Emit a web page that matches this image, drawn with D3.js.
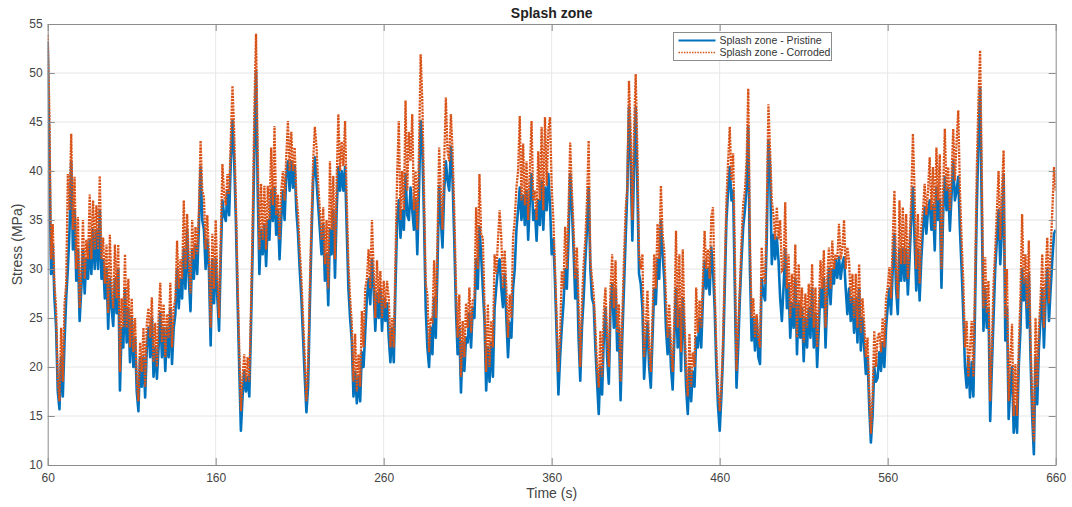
<!DOCTYPE html>
<html>
<head>
<meta charset="utf-8">
<script src="https://cdn.jsdelivr.net/npm/d3@7"></script>
<style>
  body { margin: 0; background: #fff; }
  svg text { font-family: "Liberation Sans", Arial, Helvetica, sans-serif; }
</style>
</head>
<body>
<svg id="chart" width="1072" height="507"></svg>
<script>
// Stress history in the splash zone, sampled once per second from t = 60 s to 660 s.
const timeStart = 60;
const timeStep = 1;

const pristine = [
  53.2, 42, 29.5, 32.5, 27.1, 24, 17.5, 15.7, 21, 17,
  22.5, 27, 30, 34, 41, 32, 36, 28.8, 32, 24.7,
  28, 32, 27.5, 31, 29, 33, 29.5, 34, 30, 34,
  30, 36, 29, 31, 27, 30, 23.9, 29, 26, 24.2,
  29, 25.5, 30, 17.6, 24, 22, 28, 22.5, 26, 20.5,
  25, 20, 23, 17.5, 15.5, 21, 18, 21, 16.9, 22,
  24, 21, 25, 19, 22, 18.8, 22, 25.5, 21, 24,
  19.6, 24, 21, 26, 20.3, 24, 25.4, 30, 26, 29,
  27, 32, 28, 34, 29, 25.7, 32, 29, 32.5, 29.5,
  34.3, 40.4, 35, 34, 30, 33, 29.8, 22.2, 31, 26.5,
  31, 27, 23.7, 31, 37, 35.5, 34.9, 38, 35.5, 41,
  45.1, 41, 35, 27, 20, 13.5, 17, 19.5, 17.5, 19,
  17, 24, 32, 42, 50.2, 38, 29.5, 34, 31.5, 34.5,
  30.3, 35, 33, 38, 34.9, 38.3, 33.5, 36, 31, 35,
  38, 35, 39.5, 41, 38, 41, 38.3, 40.5, 36, 33.6,
  30, 27, 23, 19, 15.4, 18, 26, 33, 39, 41.4,
  39, 36.5, 34, 31.5, 34.5, 28.8, 31.5, 26.3, 34, 31.5,
  36, 29.1, 36, 40.4, 38, 40, 38, 40.4, 34, 28,
  25, 22.7, 17, 19.5, 16.3, 19, 16.5, 21.5, 20, 23.5,
  27, 29, 26.4, 31, 28, 23.7, 27.5, 25, 28, 23.7,
  27, 24.7, 26.5, 23, 20.5, 24, 20.5, 28, 35, 37,
  33.2, 36, 34, 39.7, 35.5, 35, 38.3, 36, 34, 37,
  31.5, 38, 45.1, 42.4, 35, 26, 22, 20, 24, 21.3,
  27, 23, 30, 38.5, 35, 32.2, 38, 41, 39, 38,
  42.5, 39, 33, 26, 21.3, 24, 17.4, 22.5, 19.6, 23,
  22.5, 25.5, 22, 26, 25, 31, 28, 34.3, 31.5, 28,
  24.7, 17.6, 22, 18.5, 22.5, 19, 26, 28.1, 30, 31,
  28, 26.1, 29.5, 25, 21, 24.5, 23, 28, 30, 34,
  36, 38.3, 35, 37.5, 34.5, 38, 33, 37, 39.7, 35,
  36, 32.9, 37, 34.5, 39, 34, 38.3, 36, 39.7, 36.5,
  31.5, 33, 28.5, 23, 17.2, 21, 24, 26.4, 30, 28,
  33, 39.7, 36.3, 32, 27, 30, 23, 18.6, 24, 27,
  30.8, 34, 38.3, 30, 27, 26.4, 22, 18.5, 15.2, 20,
  17.2, 23, 26, 21, 18.3, 26, 28.5, 24, 28, 21.7,
  24, 16.6, 23, 28, 33, 38, 46.5, 41, 32.9, 40,
  46.5, 38.3, 29.5, 28.5, 26, 18.8, 22, 24.5, 20, 17.9,
  23, 28, 26.4, 31, 29, 34.9, 31.5, 29, 24, 21.3,
  24, 20, 17.7, 23, 28, 22, 26, 19.6, 27, 23,
  18, 15.2, 20, 16.5, 19.5, 18, 23, 22, 25, 22,
  27, 30.8, 28, 30, 27.4, 32.2, 29.8, 26, 20, 16,
  13.5, 17, 21.3, 28, 34.9, 38, 40.4, 37, 38, 28,
  17.9, 22, 27, 31, 34.3, 36, 38.3, 44.5, 30, 22.7,
  25, 21.7, 25, 21, 20.3, 29, 27.5, 26.8, 33, 43.1,
  40.4, 30.5, 33.5, 31, 33.2, 30.9, 27, 24.7, 28.1, 32,
  26, 28.5, 23, 26.5, 24, 29, 21.3, 26.5, 23, 26,
  20.6, 25, 22, 26, 23, 28, 22, 25.5, 20, 24,
  28, 26.1, 29, 22, 27, 30, 26.4, 30, 28.5, 31,
  29.1, 31.2, 29, 30.5, 31.2, 28, 25.4, 28, 24.7, 27,
  23.5, 27, 22.5, 28, 21.7, 25, 22, 19.3, 21, 16,
  12.3, 15, 20, 18.5, 18.9, 21.5, 19.6, 22.5, 20, 24,
  26.1, 28, 25.4, 30, 33.6, 28, 25.4, 32, 28.8, 32,
  28.8, 32, 27.4, 31, 35, 38.3, 33, 27.8, 32, 26.8,
  31, 34, 36.3, 33.6, 36, 37, 34, 36.5, 31.9, 38.3,
  35, 37, 28.1, 35.6, 39.4, 36, 38.3, 33.9, 37.5, 41,
  37, 38, 39.4, 34, 30, 25.4, 20, 17.9, 21, 16.9,
  20.5, 17, 26, 36, 43, 48.5, 36, 23.7, 28, 24,
  26, 14.5, 20, 25, 30, 33, 36, 30.5, 34, 39.7,
  22.7, 26, 14.7, 18, 20, 13.3, 16, 13.3, 20, 23.7,
  30, 26.8, 29, 24, 29.5, 21, 15, 11.1, 21, 16.2,
  22, 25, 28, 22, 27, 30, 24.7, 28, 31, 33.6, 34
];

const corroded = [
  53.9, 46, 31, 34.6, 28.5, 26, 18.6, 16.5, 24, 18.5,
  26.4, 28.5, 39.7, 36, 43.8, 34, 39.4, 30, 35.3, 26,
  29.5, 35, 29, 33, 31, 37.6, 31, 37, 32, 36.5,
  32, 39.5, 31, 33.2, 28.5, 32.5, 25.5, 33.5, 28, 26,
  32.5, 27, 32.5, 19.5, 27, 24, 31.5, 24, 29, 22,
  27, 21.5, 25, 18.8, 16.5, 22.5, 19.5, 24, 18, 24.5,
  26, 23, 27.1, 20.5, 24.5, 20, 25, 28.6, 22.5, 26.4,
  21, 25.4, 23, 28.6, 22, 26, 27, 32.9, 28, 31,
  29, 37, 30, 35.6, 31, 27.5, 35, 31, 34.3, 31.5,
  36, 43.1, 38, 37.3, 32, 35.5, 31.5, 24, 33.6, 28,
  35, 29, 25, 33.2, 40.7, 37.6, 36.5, 39.7, 37.6, 43.5,
  48.7, 44, 37, 29, 22, 15.5, 19, 21.3, 18.5, 21,
  18.5, 26, 35, 46, 54, 42, 32, 38.7, 33, 38.5,
  32, 38.5, 35, 42.4, 36.5, 44.6, 35.5, 37.6, 33, 38,
  40, 37, 41.5, 45.1, 40, 44, 40, 42.4, 37.6, 35.6,
  32, 29, 25, 21, 16.5, 20, 28, 35, 41, 44.5,
  42.5, 38.7, 36, 33, 36.3, 30.5, 35, 28, 41, 34,
  39.5, 31, 39, 45.8, 40, 43, 40.5, 45.1, 37, 30.5,
  27, 24.5, 18.5, 23.4, 17.5, 21.3, 18, 25.7, 22, 28,
  29, 32, 28, 35, 30, 25, 30.9, 26.5, 29.8, 25,
  28.8, 26, 28.8, 27, 22, 25, 22, 31, 39.7, 45.1,
  35, 40, 36, 47.2, 38, 44, 41, 45.8, 36, 40,
  34, 42, 51.9, 47, 38, 28.5, 27.4, 21.5, 25, 24.7,
  30.9, 25, 33, 42.4, 38, 34, 41, 47.5, 42, 41,
  45.8, 42, 36, 28.5, 23, 27.4, 19, 24.7, 21, 26.5,
  24, 28.1, 23.5, 26.8, 27, 36.3, 30, 39.7, 33.5, 33.2,
  26.5, 19.5, 26.4, 20, 24.7, 22, 31.5, 29.5, 32.9, 36,
  33.2, 28, 31.9, 28.1, 23, 27.4, 25, 33.2, 35, 38.3,
  40, 45.6, 37, 42.8, 36.5, 41, 35, 40, 45.1, 37,
  38, 35, 42, 37, 44.5, 36, 45.5, 38.5, 44.1, 45.5,
  38.3, 35, 30, 25, 19.5, 23, 29.8, 28, 34.3, 30,
  36, 42.9, 38, 34.3, 29, 32.2, 26.4, 20, 26.5, 30.5,
  33, 37, 43.1, 30.9, 29, 27.4, 24, 20, 17.9, 23.7,
  19, 25.7, 28.1, 23, 20, 28, 31.5, 26, 30.9, 23.5,
  26.4, 18.5, 25, 30.9, 36, 38.3, 49.2, 44, 35, 44,
  49.9, 42, 31.5, 30, 31.5, 21, 24, 27.8, 22, 19.5,
  25, 31.5, 28, 34.6, 31, 38.5, 33.5, 31.9, 27, 23,
  26.4, 22, 19.5, 25, 33.9, 24, 31.5, 21.5, 32, 25,
  20, 17, 23.4, 18, 21.5, 20, 28.1, 23.5, 26.8, 24,
  29, 33.9, 30, 32, 29, 35.3, 36.3, 28, 22, 17.9,
  15.5, 17.9, 23, 30, 37, 41, 44.5, 39, 41.8, 32,
  19.6, 24, 28.1, 33, 36.6, 38, 41, 48.4, 33, 25,
  27, 23, 25.4, 23, 22, 32.2, 29.1, 28.5, 36, 46.8,
  42, 37, 35.6, 33, 36.3, 33, 35, 29.8, 30, 36.8,
  28, 31.5, 25, 29.5, 26, 32.5, 23, 30.5, 25, 28.1,
  22.5, 27.5, 24, 28.5, 25, 30.5, 24, 28.1, 22, 26.4,
  30.9, 28, 31.9, 24, 29, 32.2, 28, 32.9, 30, 31.5,
  31, 34.6, 31, 32, 35, 30, 32.2, 30.9, 26.5, 29.5,
  25, 29.5, 24, 30.5, 23.5, 27, 24.5, 21, 23, 17.5,
  13.2, 17, 23.7, 20, 23, 23.5, 21.5, 25, 22, 27,
  28.1, 30.2, 27, 33, 38, 30, 27, 37, 30.5, 36.3,
  30.5, 35.6, 29, 33, 37, 43.8, 38, 30, 35.6, 28.5,
  34.3, 36, 38.7, 35.5, 38, 41.4, 36, 40.4, 34, 42.4,
  37, 41.7, 30, 38, 44.3, 38, 40.4, 36, 39.4, 44.3,
  39, 43, 46.2, 38, 33, 28.8, 22, 24.7, 19, 22,
  24.7, 19, 29, 40, 47, 52.3, 40, 26, 31.2, 25.5,
  28.8, 16.5, 22, 28.5, 32, 36, 40, 33, 38, 42.1,
  25, 30, 16.5, 21, 24.4, 15, 20.3, 15, 22, 27,
  35.6, 28.5, 31.5, 26, 32.9, 23, 16.5, 12.4, 25, 18,
  24, 27, 31.5, 24, 29.5, 33.2, 26.5, 32, 36, 40.4, 38
];

const xTicks = [60, 160, 260, 360, 460, 560, 660];
const yTicks = [10, 15, 20, 25, 30, 35, 40, 45, 50, 55];
const seriesNames = ["Splash zone - Pristine", "Splash zone - Corroded"];
const seriesColors = ["#0072BD", "#D95319"];

const svg = d3.select("#chart");
const plot = { left: 47.7, right: 1055.7, top: 24, bottom: 465 };

const x = d3.scaleLinear().domain([60, 660]).range([plot.left, plot.right]);
const y = d3.scaleLinear().domain([10, 55]).range([plot.bottom, plot.top]);

const axisColor = "#8c8c8c";
const labelColor = "#444";

// grid
const grid = svg.append("g");
grid.selectAll("line.gx").data(xTicks.slice(1, -1)).join("line")
  .attr("x1", d => x(d)).attr("x2", d => x(d))
  .attr("y1", plot.top).attr("y2", plot.bottom)
  .attr("stroke", "#e6e6e6").attr("stroke-width", 1);
grid.selectAll("line.gy").data(yTicks.slice(1, -1)).join("line")
  .attr("y1", d => y(d)).attr("y2", d => y(d))
  .attr("x1", plot.left).attr("x2", plot.right)
  .attr("stroke", "#e6e6e6").attr("stroke-width", 1);

// data lines
svg.append("clipPath").attr("id", "plotClip").append("rect")
  .attr("x", plot.left).attr("y", plot.top)
  .attr("width", plot.right - plot.left).attr("height", plot.bottom - plot.top);

const line = d3.line()
  .x((d, i) => x(timeStart + i * timeStep))
  .y(d => y(d));

const lines = svg.append("g").attr("clip-path", "url(#plotClip)");
lines.append("path").datum(pristine)
  .attr("d", line).attr("fill", "none")
  .attr("stroke", seriesColors[0]).attr("stroke-width", 2.6)
  .attr("stroke-linejoin", "round");
lines.append("path").datum(corroded)
  .attr("d", line).attr("fill", "none")
  .attr("stroke", seriesColors[1]).attr("stroke-width", 2.3)
  .attr("stroke-dasharray", "2.2,1");

// axes (ticks pointing inward on all four sides)
function styleAxis(g) {
  g.attr("font-size", null).attr("font-family", null);
  g.select(".domain").attr("stroke", axisColor);
  g.selectAll(".tick line").attr("stroke", axisColor);
  g.selectAll(".tick text").attr("fill", labelColor).style("font-size", "12px");
}
svg.append("g").attr("transform", `translate(0,${plot.bottom})`)
  .call(d3.axisBottom(x).tickValues(xTicks).tickSizeInner(-7).tickSizeOuter(0).tickPadding(8))
  .call(styleAxis);
svg.append("g").attr("transform", `translate(0,${plot.top})`)
  .call(d3.axisTop(x).tickValues(xTicks).tickSizeInner(-7).tickSizeOuter(0).tickFormat(""))
  .call(styleAxis);
svg.append("g").attr("transform", `translate(${plot.left},0)`)
  .call(d3.axisLeft(y).tickValues(yTicks).tickSizeInner(-7).tickSizeOuter(0).tickPadding(5))
  .call(styleAxis);
svg.append("g").attr("transform", `translate(${plot.right},0)`)
  .call(d3.axisRight(y).tickValues(yTicks).tickSizeInner(-7).tickSizeOuter(0).tickFormat(""))
  .call(styleAxis);

// title and axis labels
svg.append("text").attr("x", (plot.left + plot.right) / 2).attr("y", 18)
  .attr("text-anchor", "middle").attr("font-weight", "bold").attr("font-size", 14)
  .attr("fill", "#222").text("Splash zone");
svg.append("text").attr("x", (plot.left + plot.right) / 2).attr("y", 498)
  .attr("text-anchor", "middle").attr("font-size", 14)
  .attr("fill", labelColor).text("Time (s)");
svg.append("text")
  .attr("transform", `translate(22,${(plot.top + plot.bottom) / 2}) rotate(-90)`)
  .attr("text-anchor", "middle").attr("font-size", 14)
  .attr("fill", labelColor).text("Stress (MPa)");

// legend
const legend = svg.append("g").attr("transform", "translate(673.5,32.5)");
legend.append("rect").attr("width", 158).attr("height", 28)
  .attr("fill", "#fff").attr("stroke", "#8c8c8c").attr("stroke-width", 1);
seriesNames.forEach((name, i) => {
  const yy = 8 + i * 12;
  const l = legend.append("line")
    .attr("x1", 5).attr("x2", 42).attr("y1", yy).attr("y2", yy)
    .attr("stroke", seriesColors[i]).attr("stroke-width", i === 0 ? 2 : 1.5);
  if (i === 1) l.attr("stroke-dasharray", "1.5,1.2");
  legend.append("text").attr("x", 46).attr("y", yy + 3.7)
    .attr("font-size", 10.5).attr("fill", "#333").text(name);
});
</script>
</body>
</html>
